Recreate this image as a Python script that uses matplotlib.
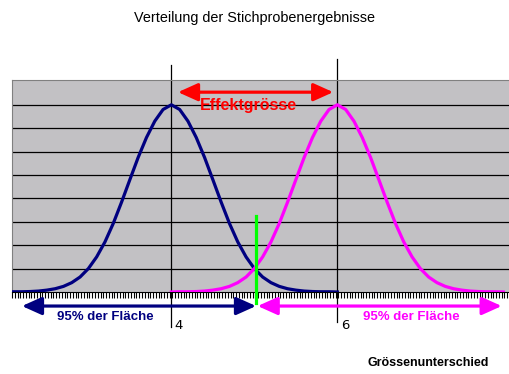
import numpy as np
import matplotlib.pyplot as plt

plt.rcParams['font.family'] = ['Liberation Sans', 'DejaVu Sans']

# Abstand vom Mittelwert und Kurvenhöhe
offsets = [-2.0, -1.9, -1.8, -1.7, -1.6, -1.5, -1.4, -1.3, -1.2, -1.1, -1.0,
           -0.9, -0.8, -0.7, -0.6, -0.5, -0.4, -0.3, -0.2, -0.1, 0.0,
           0.1, 0.2, 0.3, 0.4, 0.5, 0.6, 0.7, 0.8, 0.9, 1.0,
           1.1, 1.2, 1.3, 1.4, 1.5, 1.6, 1.7, 1.8, 1.9, 2.0]
heights = [0.00, 0.01, 0.01, 0.02, 0.04, 0.08, 0.14, 0.24, 0.40, 0.64, 1.00,
           1.50, 2.14, 2.93, 3.84, 4.80, 5.75, 6.60, 7.30, 7.80, 8.00,
           7.80, 7.30, 6.60, 5.75, 4.80, 3.84, 2.93, 2.14, 1.50, 1.00,
           0.64, 0.40, 0.24, 0.14, 0.08, 0.04, 0.02, 0.01, 0.01, 0.00]
means = [4, 6]
colors = ["#000080", "#FF00FF"]
grid_levels = [1, 2, 3, 4, 5, 6, 7, 8]
tick_labels = ["4", "6"]

W, H = 510, 374
fig = plt.figure(figsize=(W / 100, H / 100), dpi=100)
ax = fig.add_axes([12 / W, (H - 292) / H, (W - 12) / W, 212 / H])
ax.set_facecolor("#C2C1C4")
ax.set_xlim(2.08, 8.08)
ax.set_ylim(0, 9.06)

for lvl in grid_levels:
    ax.axhline(lvl, color="black", lw=0.9, zorder=1)

for m, c in zip(means, colors):
    xs = [m + d for d in offsets]
    ax.plot(xs, heights, color=c, lw=2.3, zorder=3)

# Rahmen
ax.spines["right"].set_visible(False)
ax.spines["top"].set_color("#808080")
ax.spines["left"].set_color("#808080")
ax.spines["bottom"].set_color("black")
ax.set_yticks([])
ax.set_xticks(np.arange(2.08, 8.08, 1 / 30), minor=True)
ax.set_xticks([])
ax.tick_params(axis="x", which="minor", length=4, width=0.8, color="black")

# Vertikale Linien bei 4 und 6
ax.plot([4, 4], [-1.5, 9.7], color="black", lw=0.9, clip_on=False, zorder=2)
ax.plot([6, 6], [-1.28, 9.96], color="black", lw=0.9, clip_on=False, zorder=2)
for m, lab in zip(means, tick_labels):
    ax.text(m + 0.04, -1.45, lab, fontsize=9.5, family="DejaVu Sans",
            ha="left", va="center")

# Grüne Linie bei 5
ax.plot([5.02, 5.02], [-0.47, 3.25], color="#00FF00", lw=2.3, clip_on=False, zorder=4)


# Pfeile
def arrow(x0, x1, y, col):
    ax.annotate("", xy=(x0, y), xytext=(x1, y), annotation_clip=False,
                arrowprops=dict(arrowstyle="<|-|>,head_length=1.0,head_width=0.45",
                                color=col, lw=2.3, shrinkA=0, shrinkB=0,
                                mutation_scale=12))


arrow(4.08, 5.95, 8.54, "#FF0000")
arrow(2.20, 5.02, -0.6, "#000080")
arrow(5.04, 7.98, -0.6, "#FF00FF")

ax.text(4.93, 7.98, "Effektgrösse", color="#FF0000", fontsize=11.5,
        fontweight="bold", ha="center", va="center", zorder=5)
ax.text(3.20, -1.08, "95% der Fläche", color="#000080", fontsize=9.5,
        fontweight="bold", ha="center", va="center", clip_on=False)
ax.text(6.89, -1.08, "95% der Fläche", color="#FF00FF", fontsize=9.5,
        fontweight="bold", ha="center", va="center", clip_on=False)

fig.text(255 / W, 1 - 18 / H, "Verteilung der Stichprobenergebnisse",
         fontsize=10.4, ha="center", va="center")
fig.text(428 / W, 1 - 363 / H, "Grössenunterschied", fontsize=9,
         fontweight="bold", ha="center", va="center")

fig.savefig("out.png", dpi=100)
